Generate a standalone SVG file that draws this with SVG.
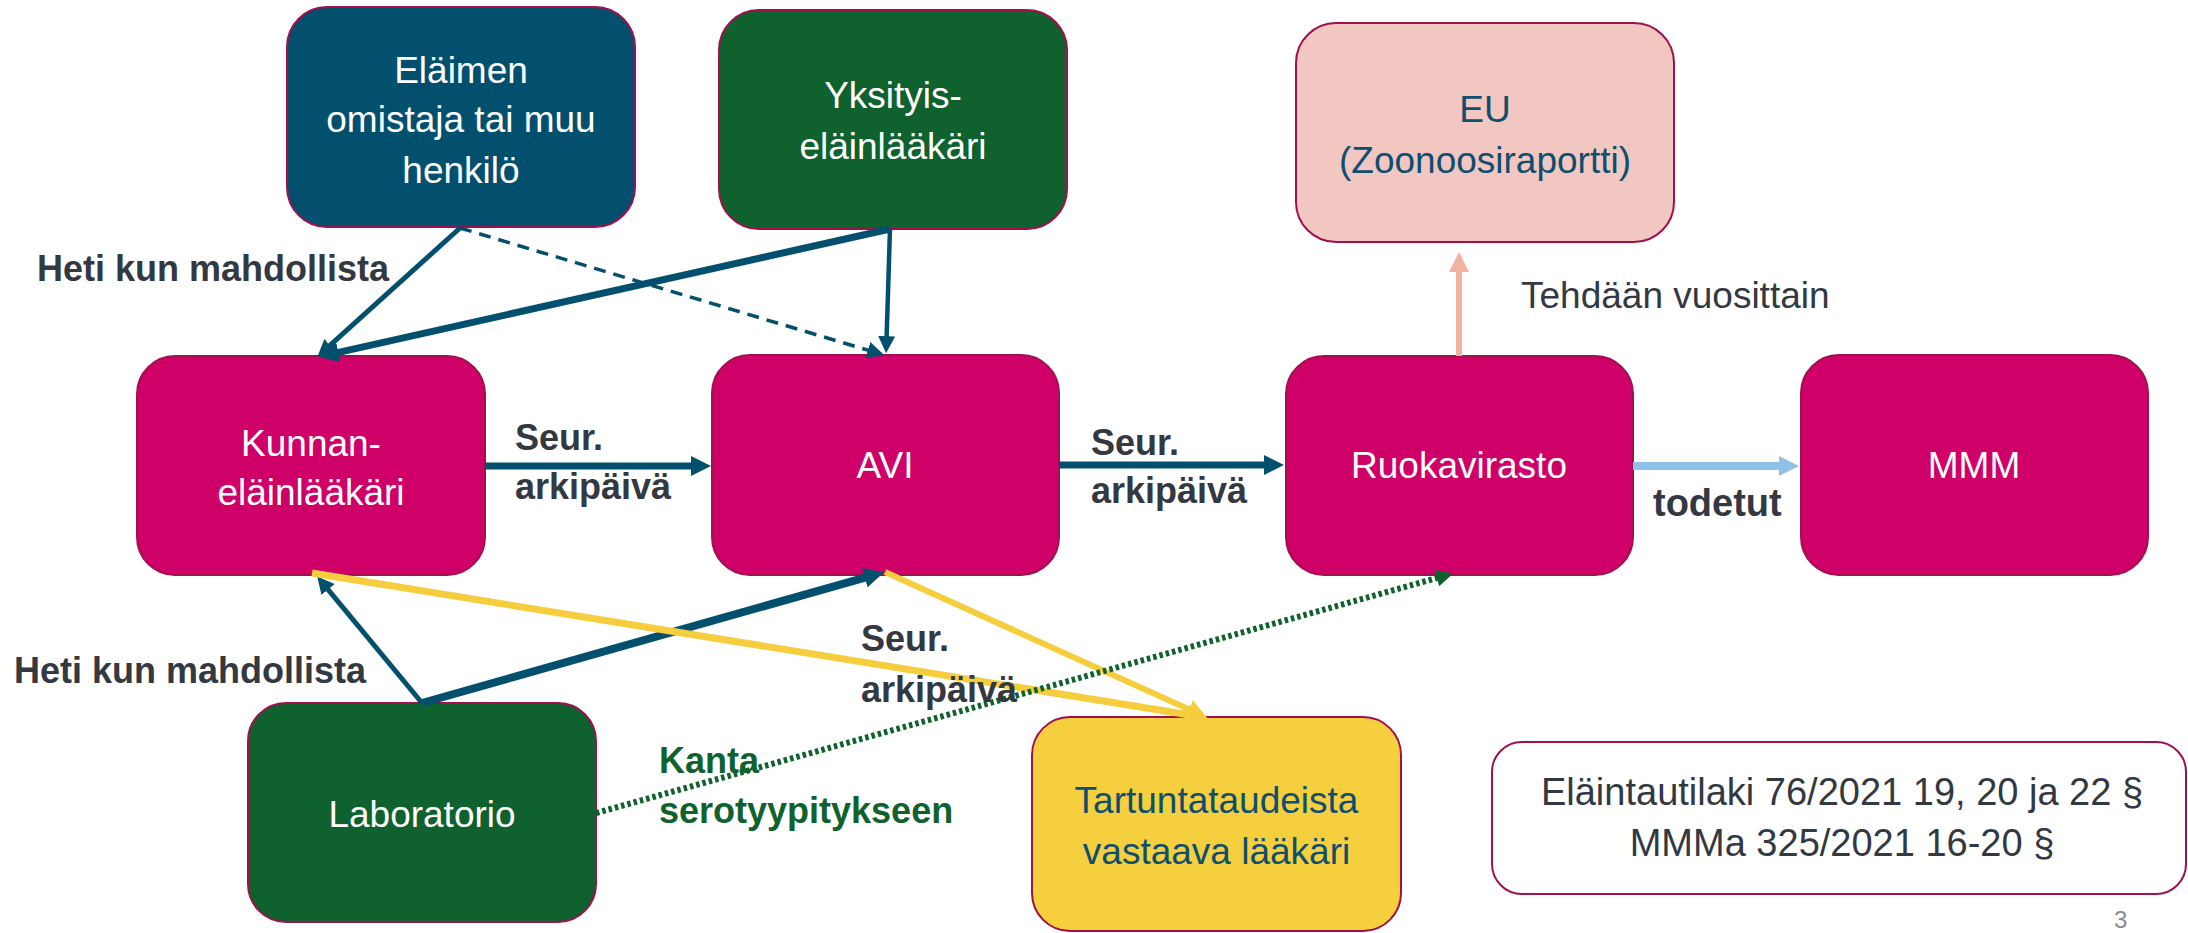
<svg xmlns="http://www.w3.org/2000/svg" width="2188" height="933" viewBox="0 0 2188 933">
<style>
.node{stroke:#A0104F;stroke-width:2}
.nt{font-family:"Liberation Sans",Arial,sans-serif;font-size:37px;fill:#FFFFFF;text-anchor:middle}
.dark{fill:#0E4E6E}
.lbl{font-family:"Liberation Sans",Arial,sans-serif;font-size:36px;font-weight:bold;fill:#333841}
.reg{font-family:"Liberation Sans",Arial,sans-serif;font-size:37px;fill:#333841}
.c{fill:none;stroke-linecap:butt}
.teal{stroke:#02506E}
.yel{stroke:#F6CD3C}
</style>
<defs>
<marker id="mTeal" markerUnits="userSpaceOnUse" viewBox="0 0 20 20" markerWidth="20" markerHeight="20" refX="1" refY="10" orient="auto"><path d="M0,0 L20,10 L0,20 Z" fill="#02506E"/></marker>
<marker id="mTealS" markerUnits="userSpaceOnUse" viewBox="0 0 20 20" markerWidth="17" markerHeight="17" refX="1" refY="10" orient="auto"><path d="M0,0 L20,10 L0,20 Z" fill="#02506E"/></marker>
<marker id="mYel" markerUnits="userSpaceOnUse" viewBox="0 0 20 20" markerWidth="20" markerHeight="22" refX="1" refY="10" orient="auto"><path d="M0,0 L20,10 L0,20 Z" fill="#F6CD3C"/></marker>
<marker id="mSal" markerUnits="userSpaceOnUse" viewBox="0 0 20 20" markerWidth="20" markerHeight="21" refX="1" refY="10" orient="auto"><path d="M0,0 L20,10 L0,20 Z" fill="#F0B3A0"/></marker>
<marker id="mBlue" markerUnits="userSpaceOnUse" viewBox="0 0 20 20" markerWidth="20" markerHeight="20" refX="1" refY="10" orient="auto"><path d="M0,0 L20,10 L0,20 Z" fill="#8EC0E8"/></marker>
<marker id="mGreen" markerUnits="userSpaceOnUse" viewBox="0 0 20 20" markerWidth="18" markerHeight="17" refX="1" refY="10" orient="auto"><path d="M0,0 L20,10 L0,20 Z" fill="#0F612E"/></marker>
</defs>
<rect width="2188" height="933" fill="#FFFFFF"/>

<g id="elaimen">
<rect class="node" x="287" y="7" width="348" height="220" rx="40" fill="#02506E"/>
<text class="nt" x="461" y="83">Eläimen</text>
<text class="nt" x="461" y="132">omistaja tai muu</text>
<text class="nt" x="461" y="183">henkilö</text>
</g>
<g id="yksityis">
<rect class="node" x="719" y="10" width="348" height="219" rx="40" fill="#0F612E"/>
<text class="nt" x="893" y="108">Yksityis-</text>
<text class="nt" x="893" y="159">eläinlääkäri</text>
</g>
<g id="eu">
<rect class="node" x="1296" y="23" width="378" height="219" rx="40" fill="#F2C7C1"/>
<text class="nt dark" x="1485" y="122">EU</text>
<text class="nt dark" x="1485" y="173">(Zoonoosiraportti)</text>
</g>
<g id="kunnan">
<rect class="node" x="137" y="356" width="348" height="219" rx="38" fill="#CF0068"/>
<text class="nt" x="311" y="456">Kunnan-</text>
<text class="nt" x="311" y="505">eläinlääkäri</text>
</g>
<g id="avi">
<rect class="node" x="712" y="355" width="347" height="220" rx="38" fill="#CF0068"/>
<text class="nt" x="885" y="478">AVI</text>
</g>
<g id="ruokavirasto">
<rect class="node" x="1286" y="356" width="347" height="219" rx="38" fill="#CF0068"/>
<text class="nt" x="1459" y="478">Ruokavirasto</text>
</g>
<g id="mmm">
<rect class="node" x="1801" y="355" width="347" height="220" rx="38" fill="#CF0068"/>
<text class="nt" x="1974" y="478">MMM</text>
</g>
<g id="laboratorio">
<rect class="node" x="248" y="703" width="348" height="219" rx="38" fill="#0F612E"/>
<text class="nt" x="422" y="827">Laboratorio</text>
</g>
<g id="tartunta">
<rect class="node" x="1032" y="717" width="369" height="214" rx="38" fill="#F6CF3F"/>
<text class="nt dark" x="1216.5" y="813">Tartuntataudeista</text>
<text class="nt dark" x="1216.5" y="864">vastaava lääkäri</text>
</g>
<g id="laki">
<rect x="1492" y="742" width="694" height="152" rx="30" fill="#FFFFFF" stroke="#A0104F" stroke-width="2"/>
<text class="reg" x="1842" y="805" text-anchor="middle" style="font-size:38px">Eläintautilaki 76/2021 19, 20 ja 22 §</text>
<text class="reg" x="1842" y="856" text-anchor="middle" style="font-size:38px">MMMa 325/2021 16-20 §</text>
</g>

<g id="connectors">
<line class="c teal" x1="460" y1="228" x2="329.4" y2="345.9" stroke-width="5" marker-end="url(#mTealS)"/>
<line class="c teal" x1="460" y1="228" x2="868.7" y2="350.4" stroke-width="3.5" stroke-dasharray="12 8" marker-end="url(#mTealS)"/>
<line class="c teal" x1="890" y1="229" x2="337.5" y2="352.6" stroke-width="7" marker-end="url(#mTeal)"/>
<line class="c teal" x1="890" y1="229" x2="886.6" y2="337" stroke-width="4.5" marker-end="url(#mTealS)"/>
<line class="c teal" x1="485" y1="466" x2="692" y2="466" stroke-width="7" marker-end="url(#mTeal)"/>
<line class="c teal" x1="1059" y1="465" x2="1265" y2="465" stroke-width="7" marker-end="url(#mTeal)"/>
<line class="c" x1="1459" y1="356" x2="1459" y2="271" stroke="#F0B3A0" stroke-width="6" marker-end="url(#mSal)"/>
<line class="c" x1="1633" y1="466" x2="1780" y2="466" stroke="#8EC0E8" stroke-width="8" marker-end="url(#mBlue)"/>
<line class="c teal" x1="422" y1="703" x2="327.5" y2="588.9" stroke-width="5" marker-end="url(#mTealS)"/>
<line class="c teal" x1="422" y1="703" x2="865.8" y2="577.4" stroke-width="8" marker-end="url(#mTeal)"/>
<line class="c yel" x1="312" y1="573" x2="1188.3" y2="714.8" stroke-width="7" marker-end="url(#mYel)"/>
<line class="c yel" x1="885" y1="572" x2="1189.8" y2="709.8" stroke-width="6" marker-end="url(#mYel)"/>
<line class="c" x1="596" y1="813" x2="1437.7" y2="577.8" stroke="#0F612E" stroke-width="6" stroke-dasharray="3.5 3" marker-end="url(#mGreen)"/>
</g>

<g id="labels">
<text class="lbl" x="37" y="281">Heti kun mahdollista</text>
<text class="lbl" x="515" y="450">Seur.</text>
<text class="lbl" x="515" y="499">arkipäivä</text>
<text class="lbl" x="1091" y="455">Seur.</text>
<text class="lbl" x="1091" y="503">arkipäivä</text>
<text class="reg" x="1521" y="308">Tehdään vuosittain</text>
<text class="lbl" x="1653" y="516" style="font-size:38px">todetut</text>
<text class="lbl" x="14" y="683">Heti kun mahdollista</text>
<text class="lbl" x="861" y="651">Seur.</text>
<text class="lbl" x="861" y="702">arkipäivä</text>
<text class="lbl" x="659" y="773" style="fill:#0F612E">Kanta</text>
<text class="lbl" x="659" y="823" style="fill:#0F612E">serotyypitykseen</text>
<text x="2114" y="928" font-family="Liberation Sans, Arial, sans-serif" font-size="24" fill="#8A8A8A">3</text>
</g>
</svg>
